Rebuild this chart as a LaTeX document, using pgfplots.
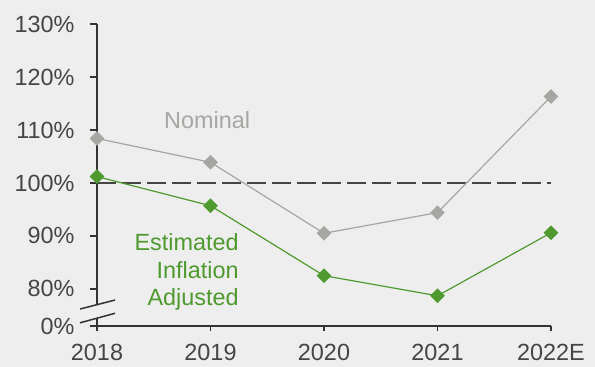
\documentclass[border=0pt]{standalone}
\usepackage{pgfplots}
\pgfplotsset{compat=1.18}
\usepackage{fontspec}
\setmainfont{Liberation Sans}
\definecolor{bg}{HTML}{EEEEEE}
\definecolor{axc}{HTML}{333333}
\definecolor{txt}{HTML}{454545}
\definecolor{nom}{HTML}{A6A6A3}
\definecolor{grn}{HTML}{4F9A2F}
\begin{document}
\begin{tikzpicture}
\fill[bg] (-97bp,-41bp) rectangle (498bp,326bp);
\begin{axis}[
  at={(0,0)}, anchor=south west,
  scale only axis, width=454bp, height=302bp,
  xmin=0, xmax=4, ymin=73, ymax=130,
  axis lines=left,
  axis line style={axc, line width=1.5bp, -},
  xtick={0,1,2,3,4},
  xticklabels={2018,2019,2020,2021,2022E},
  ytick={73,80,90,100,110,120,130},
  yticklabels={0\%,80\%,90\%,100\%,110\%,120\%,130\%},
  tick align=outside,
  xtick style={axc, line width=1.3bp, /pgfplots/major tick length=5bp},
  ytick style={axc, line width=1.3bp, /pgfplots/major tick length=7bp},
  ticklabel style={font=\fontsize{23.5}{27}\selectfont, text=txt, inner sep=0pt},
  yticklabel style={anchor=east, xshift=-18bp},
  xticklabel style={anchor=north, yshift=-14bp},
  clip=false,
]
\addplot[txt, line width=2.3bp, dash pattern=on 19bp off 6bp, mark=none] coordinates {(0,100) (4,100)};
\addplot[nom, line width=1.2bp, mark=square*, mark size=4.6bp, mark options={fill=nom, draw=nom, solid, rotate=45}]
  coordinates {(0,108.4) (1,103.9) (2,90.5) (3,94.4) (4,116.3)};
\addplot[grn, line width=1.2bp, mark=square*, mark size=4.6bp, mark options={fill=grn, draw=grn, solid, rotate=45}]
  coordinates {(0,101.2) (1,95.7) (2,82.5) (3,78.7) (4,90.6)};
\node[text=nom, font=\fontsize{23.5}{27}\selectfont] at (axis cs:0.97,111.9) {Nominal};
\node[text=grn, font=\fontsize{23.5}{28}\selectfont, align=right, anchor=east, inner sep=0pt] at (axis cs:1.25,83.2) {Estimated\\Inflation\\Adjusted};
\coordinate (g1) at (axis cs:-0.06,74.2);
\coordinate (g2) at (axis cs:0.06,74.9);
\coordinate (g3) at (axis cs:0.06,77.4);
\coordinate (g4) at (axis cs:-0.06,76.7);
\coordinate (a1) at (axis cs:-0.15,76.2);
\coordinate (a2) at (axis cs:0.159,77.9);
\coordinate (b1) at (axis cs:-0.15,73.6);
\coordinate (b2) at (axis cs:0.159,75.4);
\end{axis}
\fill[bg] (g1) -- (g2) -- (g3) -- (g4) -- cycle;
\draw[axc, line width=1.5bp] (a1) -- (a2);
\draw[axc, line width=1.5bp] (b1) -- (b2);
\pgfresetboundingbox
\useasboundingbox (-97bp,-41bp) rectangle (498bp,326bp);
\end{tikzpicture}
\end{document}
